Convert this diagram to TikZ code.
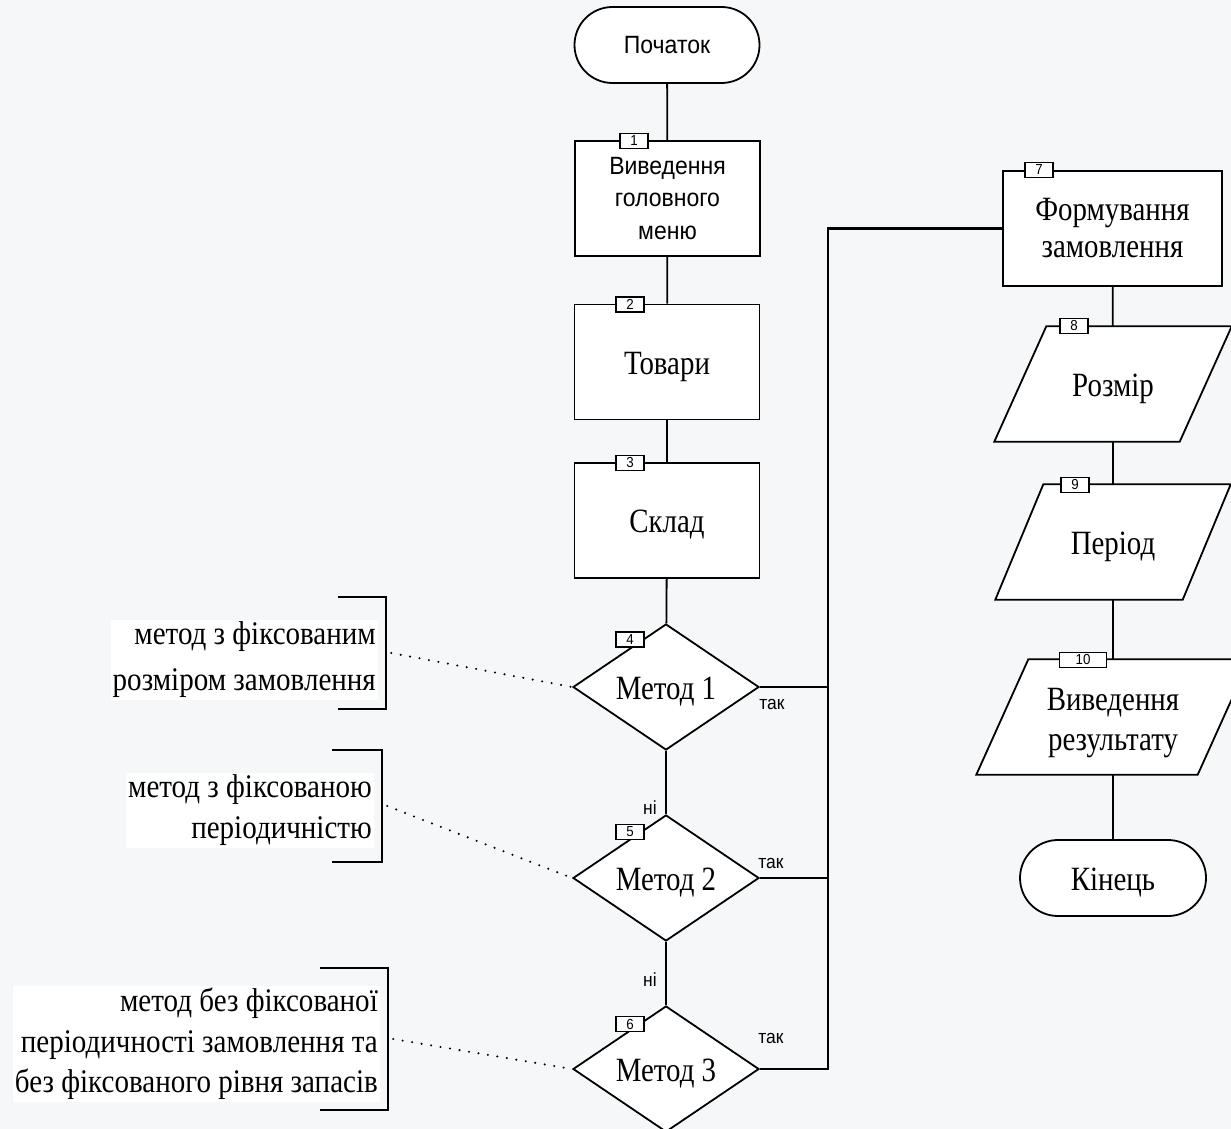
\documentclass[tikz,border=0pt]{standalone}
\usepackage{fontspec}
\setmainfont{Liberation Serif}
\setsansfont{Liberation Sans}
\newfontfamily\cserif[FakeStretch=0.85]{Liberation Serif}
\newfontfamily\aserif[FakeStretch=0.88]{Liberation Serif}
\newfontfamily\csans[FakeStretch=0.92]{Liberation Sans}
\usetikzlibrary{shapes.geometric}
\definecolor{bgc}{RGB}{246,247,248}
\newcommand\drawpara[2]{\draw[shapeline, fill=white] ([xshift=-#2]#1.south west) -- ([xshift=-#2]#1.south east) -- ([xshift=#2]#1.north east) -- ([xshift=#2]#1.north west) -- cycle;}
\begin{document}
\begin{tikzpicture}[x=1pt,y=-1pt,
  shapeline/.style={line width=1.8pt, line join=miter},
  conn/.style={line width=1.8pt},
  bus/.style={line width=2.6pt},
  lowtxt/.style={text height=24pt, text depth=0pt},
  term/.style={draw, shapeline, fill=white, rounded corners=38pt, minimum width=185pt, minimum height=76pt, inner sep=0pt},
  proc/.style={draw, shapeline, fill=white, minimum width=185pt, minimum height=115pt, align=center, inner sep=0pt},
  decis/.style={draw, shapeline, fill=white, diamond, minimum width=186pt, minimum height=126pt, inner sep=0pt, lowtxt, font=\cserif\fontsize{34}{38}\selectfont},
  para/.style={minimum height=115pt, align=center, inner sep=0pt, font=\cserif\fontsize{34}{40}\selectfont},
  sanstxt/.style={font=\csans\fontsize{25}{32.5}\selectfont},
  sertxt/.style={font=\cserif\fontsize{34}{37}\selectfont},
  tab/.style={draw, line width=1.3pt, fill=white, minimum width=28pt, minimum height=15pt, inner sep=0pt, font=\csans\fontsize{14.5}{14.5}\selectfont},
  lbl/.style={font=\csans\fontsize{19}{19}\selectfont, inner sep=0pt},
  anno/.style={fill=white, align=right, inner sep=2pt, anchor=east},
  brk/.style={minimum height=112pt, inner sep=0pt},
  brkline/.style={line width=1.8pt},
  dots/.style={line width=2.3pt, line cap=round, dash pattern=on 0pt off 9.6pt}
]
\clip (0,0) rectangle (1231,1129);
\fill[bgc] (0,0) rectangle (1231,1129);

% main column
\node[term, sanstxt] (start) at (667,45) {Початок};
\node[proc, sanstxt] (n1) at (667.5,198.5) {Виведення\\головного\\меню};
\node[proc, sertxt, lowtxt] (n2) at (667,362) {Товари};
\node[proc, sertxt, lowtxt] (n3) at (667,520.5) {Склад};
\node[decis] (d4) at (666,687) {Метод 1};
\node[decis] (d5) at (666,878) {Метод 2};
\node[decis] (d6) at (666,1069) {Метод 3};

\draw[conn] (start) -- (n1);
\draw[conn] (n1) -- (n2);
\draw[conn] (n2) -- (n3);
\draw[conn] (n3) -- (d4);
\draw[conn] (d4) -- (d5);
\draw[conn] (d5) -- (d6);

% right column
\node[proc, sertxt, minimum width=219pt] (n7) at (1112.5,228.5) {Формування\\замовлення};
\node[para, minimum width=185pt] (n8) at (1113,384) {};
\drawpara{n8}{26pt}
\node[para, lowtxt] at (n8) {Розмір};
\node[para, minimum width=187pt] (n9) at (1113,542) {};
\drawpara{n9}{24pt}
\node[para, lowtxt] at (n9) {Період};
\node[para, minimum width=221pt] (n10) at (1113,717) {};
\drawpara{n10}{26pt}
\node[para, yshift=-6pt] at (n10) {Виведення\\результату};
\node[term, lowtxt, font=\cserif\fontsize{34}{38}\selectfont, minimum width=186pt] (fin) at (1113,878) {Кінець};

\draw[conn] (n7) -- (n8);
\draw[conn] (n8) -- (n9);
\draw[conn] (n9) -- (n10);
\draw[conn] (n10) -- (fin);

% bus
\coordinate (bus4) at (828,687);
\coordinate (bus5) at (828,878);
\coordinate (bus6) at (828,1069);
\draw[bus] (d4.east) -- (bus4);
\draw[bus] (d5.east) -- (bus5);
\draw[bus] (d6.east) -- (bus6) -- (bus6 |- n7.west) -- (n7.west);

% labels
\node[lbl] (y4) at (772,704) {так};
\node[lbl] (y5) at (771,863) {так};
\node[lbl] (y6) at (771,1038) {так};
\node[lbl] (no5) at (650,808) {ні};
\node[lbl] (no6) at (650,980) {ні};

% tabs
\node[tab] (t1) at (634,141) {1};
\node[tab] (t2) at (630,304.5) {2};
\node[tab] (t3) at (630,463) {3};
\node[tab] (t4) at (630,639.5) {4};
\node[tab] (t5) at (630,832) {5};
\node[tab] (t6) at (630,1024) {6};
\node[tab] (t7) at (1039,170) {7};
\node[tab] (t8) at (1074,326) {8};
\node[tab] (t9) at (1075,485) {9};
\node[tab, minimum width=47pt] (t10) at (1083,660) {10};

% annotations
\node[anno, font=\aserif\fontsize{33}{46}\selectfont] (a1) at (378,660) {метод з фіксованим\\розміром замовлення};
\node[anno, font=\aserif\fontsize{33}{41}\selectfont] (a2) at (374,810.5) {метод з фіксованою\\періодичністю};
\node[anno, font=\aserif\fontsize{33}{40.5}\selectfont] (a3) at (380,1044) {метод без фіксованої\\періодичності замовлення та\\без фіксованого рівня запасів};

\node[brk, minimum width=48pt] (b1) at (362,653) {};
\node[brk, minimum width=50pt] (b2) at (357,806) {};
\node[brk, minimum width=68pt, minimum height=142pt] (b3) at (354,1039) {};
\foreach \b in {b1,b2,b3}{
  \draw[brkline] (\b.north west) -- (\b.north east) -- (\b.south east) -- (\b.south west);
}
\draw[dots] ([xshift=5pt]b1.east) -- (d4.west);
\draw[dots] ([xshift=5pt]b2.east) -- (d5.west);
\draw[dots] ([xshift=5pt]b3.east) -- (d6.west);
\end{tikzpicture}
\end{document}
